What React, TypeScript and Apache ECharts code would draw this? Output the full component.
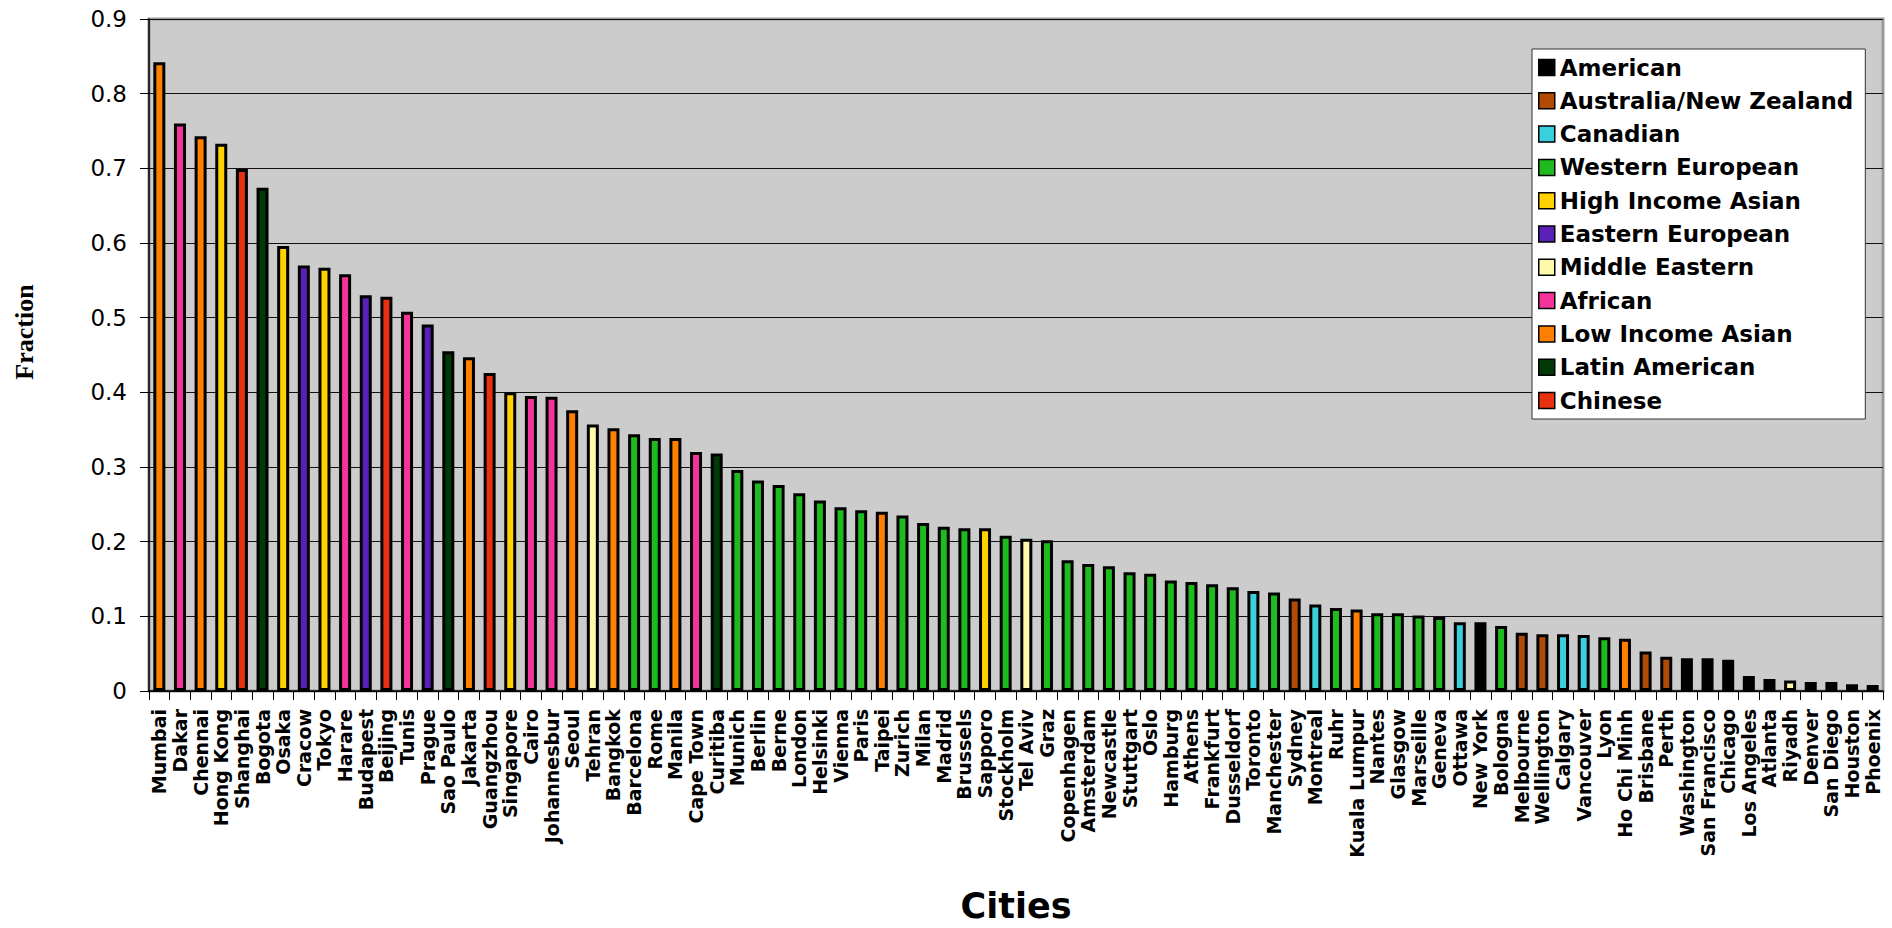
import React, { useEffect, useRef } from "react";
import * as echarts from "echarts";

const cities = [
  "Mumbai", "Dakar", "Chennai", "Hong Kong", "Shanghai", "Bogota", "Osaka", "Cracow", "Tokyo", "Harare",
  "Budapest", "Beijing", "Tunis", "Prague", "Sao Paulo", "Jakarta", "Guangzhou", "Singapore", "Cairo", "Johannesbur",
  "Seoul", "Tehran", "Bangkok", "Barcelona", "Rome", "Manila", "Cape Town", "Curitiba", "Munich", "Berlin",
  "Berne", "London", "Helsinki", "Vienna", "Paris", "Taipei", "Zurich", "Milan", "Madrid", "Brussels",
  "Sapporo", "Stockholm", "Tel Aviv", "Graz", "Copenhagen", "Amsterdam", "Newcastle", "Stuttgart", "Oslo", "Hamburg",
  "Athens", "Frankfurt", "Dusseldorf", "Toronto", "Manchester", "Sydney", "Montreal", "Ruhr", "Kuala Lumpur", "Nantes",
  "Glasgow", "Marseille", "Geneva", "Ottawa", "New York", "Bologna", "Melbourne", "Wellington", "Calgary", "Vancouver",
  "Lyon", "Ho Chi Minh", "Brisbane", "Perth", "Washington", "San Francisco", "Chicago", "Los Angeles", "Atlanta", "Riyadh",
  "Denver", "San Diego", "Houston", "Phoenix",
];

const values = [
  0.842, 0.760, 0.743, 0.733, 0.699, 0.674, 0.596, 0.570, 0.567, 0.558,
  0.530, 0.528, 0.508, 0.491, 0.455, 0.447, 0.426, 0.400, 0.395, 0.394,
  0.376, 0.357, 0.352, 0.344, 0.339, 0.339, 0.320, 0.318, 0.296, 0.282,
  0.276, 0.265, 0.255, 0.246, 0.242, 0.240, 0.235, 0.225, 0.220, 0.218,
  0.218, 0.208, 0.204, 0.202, 0.175, 0.170, 0.167, 0.159, 0.157, 0.148,
  0.146, 0.143, 0.139, 0.134, 0.132, 0.124, 0.116, 0.111, 0.109, 0.104,
  0.104, 0.101, 0.099, 0.092, 0.092, 0.087, 0.078, 0.076, 0.076, 0.075,
  0.072, 0.070, 0.053, 0.046, 0.044, 0.044, 0.042, 0.020, 0.016, 0.014,
  0.012, 0.012, 0.009, 0.008,
];

const cityGroups = [
  "Low Income Asian", "African", "Low Income Asian", "High Income Asian", "Chinese", "Latin American", "High Income Asian", "Eastern European", "High Income Asian", "African",
  "Eastern European", "Chinese", "African", "Eastern European", "Latin American", "Low Income Asian", "Chinese", "High Income Asian", "African", "African",
  "Low Income Asian", "Middle Eastern", "Low Income Asian", "Western European", "Western European", "Low Income Asian", "African", "Latin American", "Western European", "Western European",
  "Western European", "Western European", "Western European", "Western European", "Western European", "Low Income Asian", "Western European", "Western European", "Western European", "Western European",
  "High Income Asian", "Western European", "Middle Eastern", "Western European", "Western European", "Western European", "Western European", "Western European", "Western European", "Western European",
  "Western European", "Western European", "Western European", "Canadian", "Western European", "Australia/New Zealand", "Canadian", "Western European", "Low Income Asian", "Western European",
  "Western European", "Western European", "Western European", "Canadian", "American", "Western European", "Australia/New Zealand", "Australia/New Zealand", "Canadian", "Canadian",
  "Western European", "Low Income Asian", "Australia/New Zealand", "Australia/New Zealand", "American", "American", "American", "American", "American", "Middle Eastern",
  "American", "American", "American", "American",
];

const groups = [
  "American", "Australia/New Zealand", "Canadian", "Western European", "High Income Asian", "Eastern European",
  "Middle Eastern", "African", "Low Income Asian", "Latin American", "Chinese",
];

const groupColors = [
  "#000000", "#B04A05", "#3ACFDD", "#1EBA1E", "#FFD200", "#5A20B8",
  "#FFFAA8", "#F5349A", "#FF7F00", "#013A06", "#E63210",
];

const yTicks = ["0", "0.1", "0.2", "0.3", "0.4", "0.5", "0.6", "0.7", "0.8", "0.9"];

export default function App() {
  const ref = useRef<HTMLDivElement>(null);

  useEffect(() => {
    if (!ref.current) return;
    const chart = echarts.init(ref.current, undefined, { renderer: "svg" });

    const series = groups.map((g, gi) => ({
      name: g,
      type: "bar",
      stack: "all",
      barWidth: 12,
      itemStyle: { color: groupColors[gi], borderColor: "#000", borderWidth: 3 },
      emphasis: { disabled: true },
      data: values.map((v, i) => (cityGroups[i] === g ? v : "-")),
    }));

    chart.setOption({
      animation: false,
      backgroundColor: "#ffffff",
      grid: {
        left: 149,
        top: 19,
        right: 9,
        bottom: 236,
        show: true,
        backgroundColor: "#CCCCCC",
        borderColor: "#999999",
        borderWidth: 3,
      },
      legend: {
        data: groups,
        orient: "vertical",
        left: 1532,
        top: 49,
        backgroundColor: "#ffffff",
        borderColor: "#333333",
        borderWidth: 1,
        padding: [7, 12, 7, 6],
        itemWidth: 16,
        itemHeight: 16,
        itemGap: 10.3,
        icon: "rect",
        selectedMode: false,
        itemStyle: { borderColor: "#000", borderWidth: 1.5 },
        textStyle: {
          fontFamily: "DejaVu Sans",
          fontWeight: "bold",
          fontSize: 23,
          lineHeight: 23,
          color: "#000",
        },
      },
      xAxis: {
        type: "category",
        data: cities,
        name: "Cities",
        nameLocation: "middle",
        nameGap: 197,
        nameTextStyle: { fontFamily: "DejaVu Sans", fontWeight: "bold", fontSize: 35, color: "#000" },
        axisLine: { lineStyle: { color: "#000", width: 1.5 } },
        axisTick: { show: true, length: 9, alignWithLabel: false, lineStyle: { color: "#000" } },
        axisLabel: {
          interval: 0,
          rotate: 90,
          margin: 18,
          fontFamily: "DejaVu Sans",
          fontWeight: "bold",
          fontSize: 19,
          color: "#000",
        },
      },
      yAxis: {
        type: "value",
        min: 0,
        max: 0.9,
        interval: 0.1,
        axisLine: { show: true, lineStyle: { color: "#000", width: 1.5 } },
        axisTick: { show: true, length: 9, lineStyle: { color: "#000" } },
        axisLabel: {
          margin: 22,
          fontFamily: "DejaVu Sans",
          fontSize: 23,
          color: "#000",
          formatter: (v: number) => yTicks[Math.round(v * 10)] ?? String(v),
        },
        splitLine: { show: true, lineStyle: { color: "#111", width: 1 } },
      },
      graphic: [
        {
          type: "text",
          x: 24,
          y: 332,
          rotation: Math.PI / 2,
          style: {
            text: "Fraction",
            fontFamily: "Liberation Serif",
            fontWeight: "bold",
            fontSize: 26,
            fill: "#000",
            align: "center",
            verticalAlign: "middle",
          },
        },
      ],
      series,
    });

    return () => chart.dispose();
  }, []);

  return (
    <div
      ref={ref}
      style={{ position: "fixed", left: 0, top: 0, width: 1892, height: 928 }}
    />
  );
}
